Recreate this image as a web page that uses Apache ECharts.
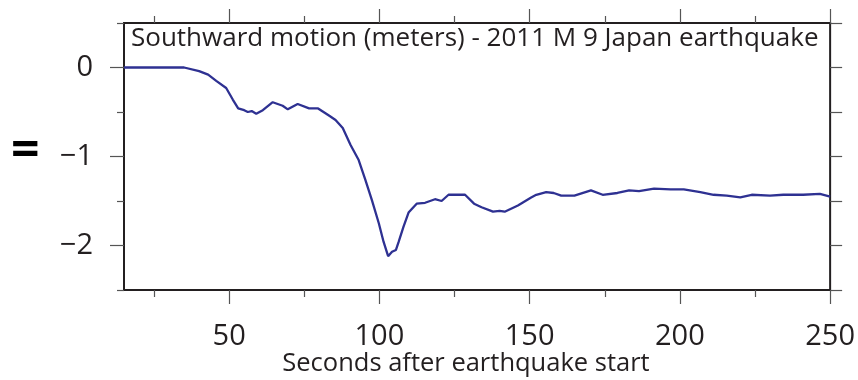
<!DOCTYPE html>
<html>
<head>
<meta charset="utf-8">
<script src="https://cdn.jsdelivr.net/npm/echarts@6/dist/echarts.min.js"></script>
<style>
html,body{margin:0;padding:0;background:#fff;}
#chart{width:858px;height:380px;}
</style>
</head>
<body>
<div id="chart"></div>
<script>
// Data
const seconds = [15, 25, 35, 40, 43, 45.7, 49, 51.2, 53, 55, 56.2, 57.5, 59, 61.2, 64.5, 67.8, 69.5, 72.8, 76.6, 79.6,
  83.2, 85.4, 87.8, 90.4, 93.1, 95.3, 97.5, 99.8, 101.4, 102.9, 104.2, 105.5, 106.4, 108, 109.7, 112.4, 115.2, 118.5,
  120.7, 123, 128.5, 131.5, 134, 137.8, 140, 141.7, 146.1, 150.5, 152.2, 155.5, 158, 160.5, 164.9, 170.4, 174.3,
  179.2, 183.1, 186.4, 191.4, 196.9, 201.3, 206.8, 211.2, 215.6, 220.1, 223.9, 230, 234.4, 241, 246.6, 250];
const southward = [0, 0, 0, -0.04, -0.08, -0.15, -0.23, -0.36, -0.46, -0.48, -0.50, -0.49, -0.52, -0.48, -0.39, -0.43, -0.47, -0.41, -0.46, -0.46,
  -0.54, -0.59, -0.68, -0.87, -1.04, -1.26, -1.49, -1.75, -1.96, -2.12, -2.07, -2.05, -1.96, -1.79, -1.63, -1.53, -1.52, -1.48,
  -1.50, -1.43, -1.43, -1.53, -1.57, -1.62, -1.61, -1.62, -1.55, -1.46, -1.43, -1.40, -1.41, -1.44, -1.44, -1.38, -1.43,
  -1.41, -1.38, -1.39, -1.36, -1.37, -1.37, -1.40, -1.43, -1.44, -1.46, -1.43, -1.44, -1.43, -1.43, -1.42, -1.45];
const xMajorTicks = [50, 100, 150, 200, 250];
const xMinorTicks = [25, 75, 125, 175, 225];
const yMajorTicks = [-2, -1, 0];
const yMinorTicks = [-2.5, -1.5, -0.5, 0.5];
const yRightTicks = [-2.5, -2, -1.5, -1, -0.5, 0, 0.5];
const titleText = 'Southward motion (meters) - 2011 M 9 Japan earthquake';
const xAxisName = 'Seconds after earthquake start';
const yAxisSymbol = '=';

const FONT = '"Open Sans", "Noto Sans", sans-serif';
const INK = '#231f20';
const TICK = '#555555';

const chart = echarts.init(document.getElementById('chart'), null, {renderer: 'canvas'});

function xAx(pos, ticks, len, extra) {
  return Object.assign({
    type: 'value', position: pos, min: 15, max: 250, gridIndex: 0,
    axisLine: {show: false, onZero: false},
    axisTick: {show: true, inside: false, length: len, customValues: ticks, lineStyle: {color: TICK, width: 1.2}},
    axisLabel: {show: false},
    splitLine: {show: false}
  }, extra || {});
}
function yAx(pos, ticks, len, extra) {
  return Object.assign({
    type: 'value', position: pos, min: -2.5, max: 0.5, gridIndex: 0,
    axisLine: {show: false, onZero: false},
    axisTick: {show: true, inside: false, length: len, customValues: ticks, lineStyle: {color: TICK, width: 1.2}},
    axisLabel: {show: false},
    splitLine: {show: false}
  }, extra || {});
}

const option = {
  backgroundColor: '#ffffff',
  animation: false,
  textStyle: {fontFamily: FONT, color: INK},
  title: {
    text: titleText,
    left: 126, top: 21,
    textStyle: {fontFamily: FONT, fontSize: 26, fontWeight: 'normal', color: INK}
  },
  grid: {left: 124, right: 24, top: 23, bottom: 90, containLabel: false,
         show: true, borderColor: INK, borderWidth: 2, backgroundColor: 'transparent'},
  xAxis: [
    xAx('bottom', xMajorTicks, 14, {
      axisLabel: {show: true, customValues: xMajorTicks, margin: 32, fontSize: 29, color: INK, fontFamily: FONT}
    }),
    xAx('bottom', xMinorTicks, 7),
    xAx('top', xMajorTicks, 14),
    xAx('top', xMinorTicks, 7)
  ],
  yAxis: [
    yAx('left', yMajorTicks, 14, {
      axisLabel: {show: true, customValues: yMajorTicks, margin: 31, fontSize: 29, color: INK, fontFamily: FONT,
        formatter: v => (v < 0 ? '\u2212' + Math.abs(v) : String(v))}
    }),
    yAx('left', yMinorTicks, 7),
    yAx('right', yRightTicks, 12)
  ],
  graphic: [{
    type: 'text', left: 11, top: 127,
    style: {text: yAxisSymbol, font: 'bold 50px "Open Sans", sans-serif', fill: '#000'}
  }, {
    type: 'text', x: 466, y: 364,
    style: {text: xAxisName, font: '25.5px "Open Sans", sans-serif', fill: INK, align: 'center', verticalAlign: 'middle'}
  }],
  series: [{
    type: 'line',
    xAxisIndex: 0, yAxisIndex: 0,
    data: seconds.map((s, i) => [s, southward[i]]),
    showSymbol: false, symbol: 'none',
    lineStyle: {color: '#2e3192', width: 2.3},
    smooth: false
  }]
};
chart.setOption(option);
</script>
</body>
</html>
